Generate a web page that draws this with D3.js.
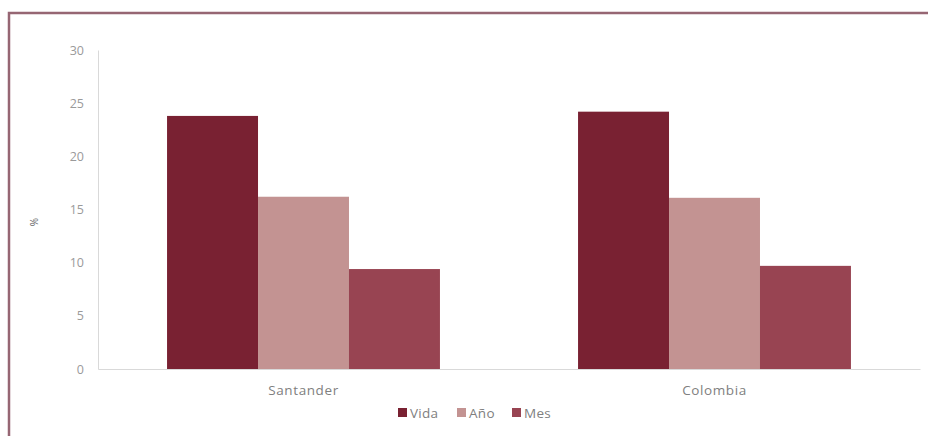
<!DOCTYPE html>
<html>
<head>
<meta charset="utf-8">
<script src="https://cdn.jsdelivr.net/npm/d3@7"></script>
<style>
  body { margin: 0; background: #fff; }
  text { font-family: "Open Sans", Roboto, sans-serif; }
</style>
</head>
<body>
<div id="chart"></div>
<script>
(function() {
"use strict";

const regions = ["Santander", "Colombia"];
const series = ["Vida", "Año", "Mes"];
const vida = [23.8, 24.2];
const anio = [16.2, 16.1];
const mes = [9.4, 9.7];
const yTicks = [0, 5, 10, 15, 20, 25, 30];
const colors = ["#792132", "#c39392", "#984452"];

const WIDTH = 928;
const HEIGHT = 436;
const margin = { top: 50, right: 8, bottom: 67, left: 98 };

const values = [vida, anio, mes];
const data = regions.map((r, i) => ({
  region: r,
  vals: series.map((s, j) => ({ key: s, value: values[j][i] }))
}));

const SVG = d3.select("#chart")
              .append("svg")
              .attr("width", WIDTH)
              .attr("height", HEIGHT);

// outer frame
SVG.append("rect")
  .attr("x", 9)
  .attr("y", 13)
  .attr("width", WIDTH + 20)
  .attr("height", HEIGHT + 20)
  .attr("fill", "none")
  .attr("stroke", "#966673")
  .attr("stroke-width", 2.5);

const x0 = d3.scaleBand()
             .domain(regions)
             .range([margin.left, WIDTH - margin.right])
             .paddingInner(0.336)
             .paddingOuter(0.168);

const x1 = d3.scaleBand()
             .domain(series)
             .range([0, x0.bandwidth()]);

const y = d3.scaleLinear()
            .domain([0, 30])
            .range([HEIGHT - margin.bottom, margin.top]);

// y axis
const yAxis = d3.axisLeft(y).tickValues(yTicks).tickSize(0).tickPadding(14);
const gy = SVG.append("g")
  .attr("transform", `translate(${margin.left}, 0)`)
  .call(yAxis);
gy.select(".domain").attr("stroke", "#d9d9d9");
gy.selectAll("text").attr("fill", "#9a9a9a").attr("font-size", 12.5);

// x axis
const xAxis = d3.axisBottom(x0).tickSize(0).tickPadding(16);
const gx = SVG.append("g")
  .attr("transform", `translate(0, ${HEIGHT - margin.bottom})`)
  .call(xAxis);
gx.select(".domain").attr("stroke", "#d9d9d9");
gx.selectAll("text")
  .attr("fill", "#808080")
  .attr("font-size", 13.5)
  .attr("letter-spacing", 0.6);

// y title
SVG.append("text")
  .attr("transform", "translate(38, 222) rotate(-90)")
  .attr("text-anchor", "middle")
  .attr("fill", "#666")
  .attr("font-size", 10)
  .text("%");

// bars
SVG.append("g")
  .selectAll("g")
  .data(data)
  .enter()
  .append("g")
    .attr("transform", (d) => `translate(${x0(d.region)}, 0)`)
  .selectAll("rect")
  .data((d) => d.vals)
  .enter()
  .append("rect")
    .attr("x", (d) => x1(d.key))
    .attr("y", (d) => y(d.value))
    .attr("width", x1.bandwidth())
    .attr("height", (d) => y(0) - y(d.value))
    .attr("fill", (d, i) => colors[i]);

// legend
const legend = SVG.append("g").attr("transform", "translate(398, 413)");
const offsets = [0, 59, 114];
series.forEach((s, i) => {
  const g = legend.append("g").attr("transform", `translate(${offsets[i]}, 0)`);
  g.append("rect")
    .attr("x", 0).attr("y", -5)
    .attr("width", 9).attr("height", 9)
    .attr("fill", colors[i]);
  g.append("text")
    .attr("x", 12).attr("y", 0)
    .attr("dy", "0.35em")
    .attr("fill", "#808080")
    .attr("font-size", 13.5)
    .attr("letter-spacing", 0.3)
    .text(s);
});

})();
</script>
</body>
</html>
